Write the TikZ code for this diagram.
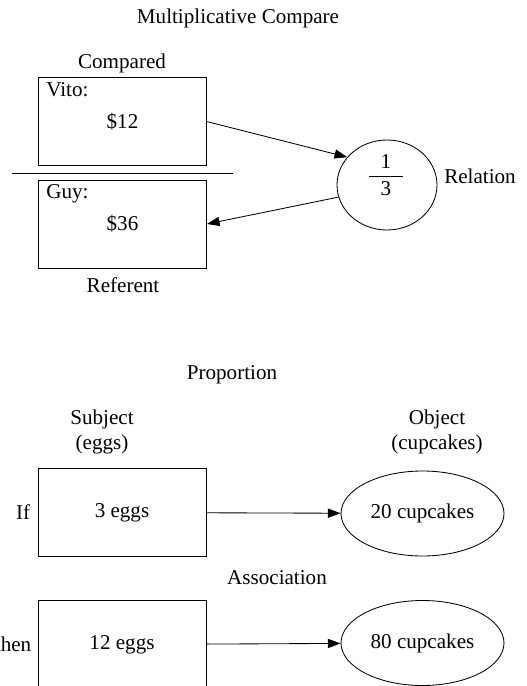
\documentclass[tikz,border=0pt]{standalone}
\usepackage{amsmath}
\usepackage{fontspec}
\setmainfont{Liberation Serif}
\usetikzlibrary{arrows.meta,positioning,shapes.geometric}

\begin{document}
\begin{tikzpicture}[font=\fontsize{15}{17.8}\selectfont, line width=0.6pt,
  >={Triangle[length=9pt,width=6.5pt]},
  box/.style={shape=rectangle, minimum width=4.2cm, minimum height=2.2cm, draw},
  oval/.style={shape=ellipse, minimum width=4.075cm, minimum height=2.125cm, inner sep=0pt, draw}]
\clip (0,0) rectangle (13.15,-17.15);

% multiplicative compare
\path (5.95,-0.45) node (T1) {Multiplicative Compare};
\path (3.05,-1.575) node (Cmp) {Compared};
\path (3.0625,-3.04) node (vito) [box] {\$12};
\path ([xshift=0.08cm]vito.north west) node (VitoL) [anchor=north west] {Vito:};
\draw (0.3,-4.325) -- (5.825,-4.325);
\path (3.0625,-5.6) node (guy) [box] {\$36};
\path ([xshift=0.08cm]guy.north west) node (GuyL) [anchor=north west] {Guy:};
\path (3.075,-7.125) node (Ref) {Referent};

\path (9.675,-4.625) node (rel) [shape=ellipse, minimum width=2.5cm, minimum height=2.25cm, draw] {};
\path (9.65,-4.38) node (frac) {$\dfrac{\makebox[0.85cm]{1}}{\text{3}}$};
\path (12.0,-4.4) node (RelL) {Relation};

\draw [->] (vito.east) to (rel.145);
\draw [->] (rel.194) to (guy.east);

% proportion
\path (5.8,-9.375) node (T2) {Proportion};
\path (2.55,-10.81) node (Subj) [align=center] {Subject\\(eggs)};
\path (10.925,-10.81) node (Obj) [align=center] {Object\\(cupcakes)};

\path (3.05,-12.8125) node (E1) [box] {3 eggs};
\path (10.5625,-12.8375) node (C1) [oval] {20 cupcakes};
\node (IfL) [left=0.06cm of E1] {If};
\path (6.925,-14.45) node (Assoc) {Association};
\path (3.05,-16.1125) node (E2) [box] {12 eggs};
\path (10.5625,-16.075) node (C2) [oval] {80 cupcakes};
\node (ThenL) [left=0.03cm of E2] {then};

\draw [->] (E1) to (C1);
\draw [->] (E2) to (C2);

\end{tikzpicture}
\end{document}
